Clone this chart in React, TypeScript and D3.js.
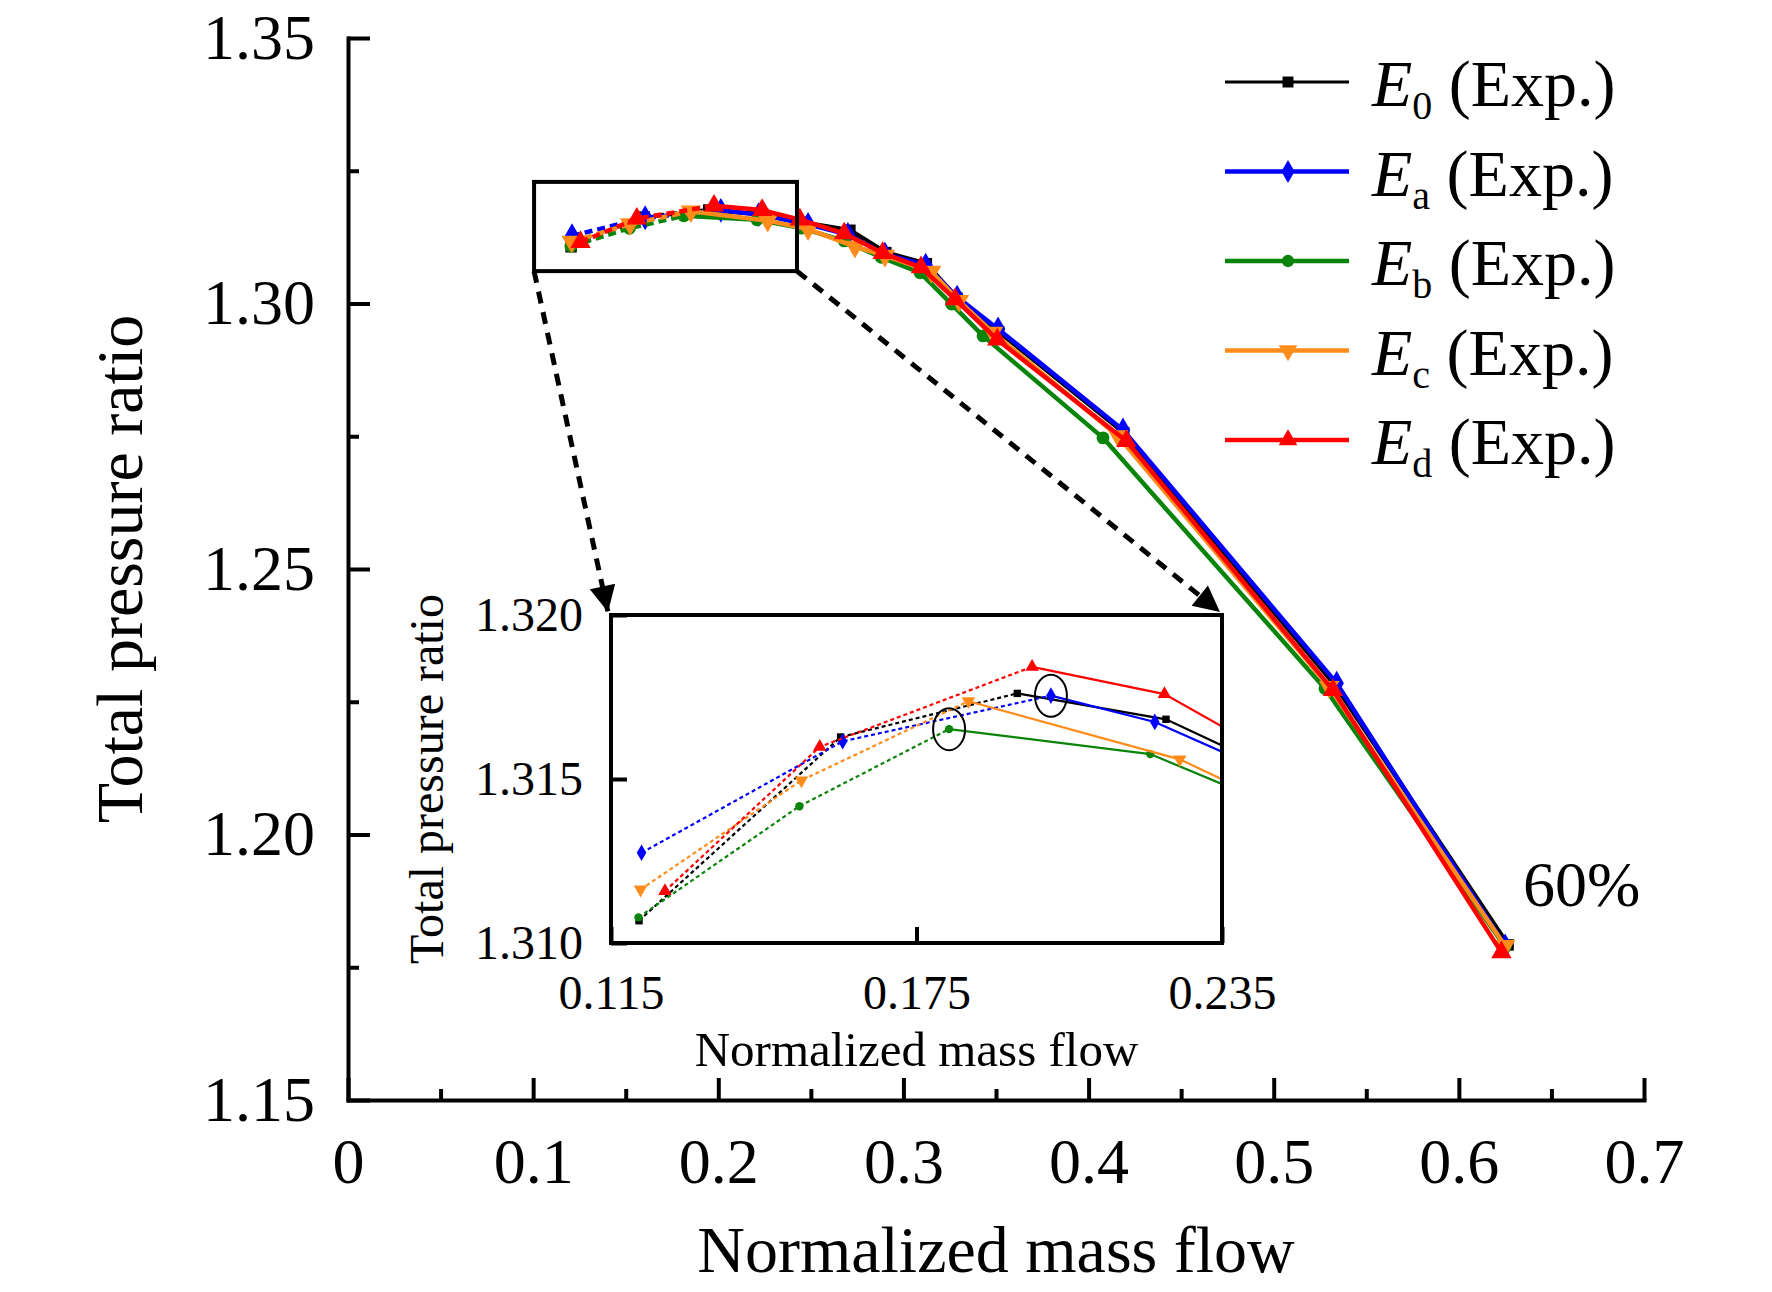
import React, { useEffect, useRef } from 'react';
import * as d3 from 'd3';

const W = 1772;
const H = 1292;

// normalized mass flow and total pressure ratio
const flowE0 = [0.1205, 0.1601, 0.1948, 0.2240, 0.2450, 0.2711, 0.2905, 0.3124, 0.3290, 0.3515, 0.4190, 0.5330, 0.6266];
const prE0 = [1.31068, 1.31628, 1.31761, 1.31682, 1.3153, 1.3138, 1.3096, 1.3075, 1.3010, 1.2947, 1.2757, 1.2282, 1.1792];

const flowEa = [0.1210, 0.1605, 0.2014, 0.2218, 0.2485, 0.2700, 0.2900, 0.3120, 0.3290, 0.3511, 0.4186, 0.5340, 0.6250];
const prEa = [1.31275, 1.31615, 1.31754, 1.31674, 1.3149, 1.3130, 1.3093, 1.3072, 1.3012, 1.2952, 1.2762, 1.2285, 1.1790];

const flowEb = [0.1204, 0.1520, 0.1814, 0.2209, 0.2450, 0.2680, 0.2880, 0.3090, 0.3260, 0.3430, 0.4078, 0.5277, 0.6250];
const prEb = [1.31078, 1.31417, 1.31652, 1.31576, 1.3142, 1.3118, 1.3087, 1.3058, 1.2999, 1.2939, 1.2747, 1.2275, 1.1788];

const flowEc = [0.1208, 0.1524, 0.1852, 0.2267, 0.2485, 0.2738, 0.2900, 0.3150, 0.3300, 0.3484, 0.4160, 0.5300, 0.6250];
const prEc = [1.31163, 1.31496, 1.31737, 1.31560, 1.3140, 1.3107, 1.3090, 1.3060, 1.3005, 1.2945, 1.2750, 1.2278, 1.1790];

const flowEd = [0.1256, 0.1560, 0.1977, 0.2237, 0.2441, 0.2680, 0.2888, 0.3095, 0.3279, 0.3507, 0.4204, 0.5320, 0.6230];
const prEd = [1.31158, 1.31598, 1.31842, 1.31759, 1.3158, 1.3132, 1.3095, 1.3068, 1.3008, 1.2932, 1.2741, 1.2272, 1.1778];

const labels = ['0', 'a', 'b', 'c', 'd'];
const colors = ['#000000', '#0000ff', '#0a840a', '#ff8c1a', '#ff0000'];
const symbols = ['square', 'diamond', 'circle', 'down', 'up'];
const flows = [flowE0, flowEa, flowEb, flowEc, flowEd];
const ratios = [prE0, prEa, prEb, prEc, prEd];

// last point of the dotted (unstable) part of each curve
const dottedUntil = 2;

// zoom window in the main plot and the inset ranges
const zoomFlow = [0.1005, 0.2425];
const zoomRatio = [1.3061, 1.3229];
const insetFlow = [0.115, 0.235];
const insetRatio = [1.310, 1.320];

const xTicks = [0, 0.1, 0.2, 0.3, 0.4, 0.5, 0.6, 0.7];
const yTicks = [1.15, 1.2, 1.25, 1.3, 1.35];
const insetXTicks = [0.115, 0.175, 0.235];
const insetYTicks = [1.310, 1.315, 1.320];

const FONT = "'Liberation Serif', 'Times New Roman', serif";

function symbolPath(kind: string, size: number) {
  const t = kind === 'square' ? d3.symbolSquare
    : kind === 'diamond' ? d3.symbolDiamond
    : kind === 'circle' ? d3.symbolCircle
    : d3.symbolTriangle;
  return d3.symbol().type(t).size(size)() as string;
}

export default function App() {
  const ref = useRef<SVGSVGElement>(null);

  useEffect(() => {
    if (!ref.current) return;
    const root = d3.select(ref.current);
    root.selectAll('*').remove();
    const defs = root.append('defs');
    // small shift down so the top tick label is not clipped
    const svg = root.append('g').attr('transform', 'translate(0,6)');

    const x = d3.scaleLinear().domain([0, 0.7]).range([348, 1644]);
    const y = d3.scaleLinear().domain([1.15, 1.35]).range([1094, 32]);

    defs.append('marker')
      .attr('id', 'arrow')
      .attr('viewBox', '0 0 10 10')
      .attr('refX', 10).attr('refY', 5)
      .attr('markerWidth', 28).attr('markerHeight', 26)
      .attr('markerUnits', 'userSpaceOnUse')
      .attr('orient', 'auto')
      .append('path')
      .attr('d', 'M0,0 L10,5 L0,10 z')
      .attr('fill', '#000');

    // --- main axes
    const styleAxis = (g: any, fs: number) => {
      g.attr('font-family', FONT).attr('font-size', fs);
      g.selectAll('.tick line').attr('stroke', '#000').attr('stroke-width', 4);
      g.selectAll('.tick text').attr('fill', '#000');
      g.select('.domain').attr('stroke', '#000').attr('stroke-width', 4).attr('stroke-linecap', 'square');
    };

    svg.append('g')
      .attr('transform', `translate(0,${y(1.15)})`)
      .call(d3.axisBottom(x).tickValues(d3.range(0.05, 0.7, 0.1)).tickSize(-11).tickFormat(() => '').tickSizeOuter(0))
      .call(g => styleAxis(g, 64))
      .call(g => g.select('.domain').remove());
    svg.append('g')
      .attr('transform', `translate(${x(0)},0)`)
      .call(d3.axisLeft(y).tickValues(d3.range(1.175, 1.35, 0.05)).tickSize(-11).tickFormat(() => '').tickSizeOuter(0))
      .call(g => styleAxis(g, 64))
      .call(g => g.select('.domain').remove());

    svg.append('g')
      .attr('transform', `translate(0,${y(1.15)})`)
      .call(d3.axisBottom(x).tickValues(xTicks).tickSize(-22).tickSizeOuter(0).tickPadding(38)
        .tickFormat(d => (+d === 0 ? '0' : d3.format('.1f')(+d))))
      .call(g => styleAxis(g, 64));
    svg.append('g')
      .attr('transform', `translate(${x(0)},0)`)
      .call(d3.axisLeft(y).tickValues(yTicks).tickSize(-22).tickSizeOuter(0).tickPadding(33)
        .tickFormat(d => d3.format('.2f')(+d)))
      .call(g => styleAxis(g, 64));

    svg.append('text')
      .attr('transform', `translate(142,${(y(1.15) + y(1.35)) / 2}) rotate(-90)`)
      .attr('text-anchor', 'middle')
      .attr('font-family', FONT).attr('font-size', 66)
      .text('Total pressure ratio');
    svg.append('text')
      .attr('x', (x(0) + x(0.7)) / 2).attr('y', 1266)
      .attr('text-anchor', 'middle')
      .attr('font-family', FONT).attr('font-size', 66)
      .text('Normalized mass flow');

    // --- main curves
    flows.forEach((fl, s) => {
      const pts = fl.map((f, i) => [x(f), y(ratios[s][i])] as [number, number]);
      svg.append('path')
        .attr('d', d3.line()(pts.slice(0, dottedUntil + 1)))
        .attr('fill', 'none').attr('stroke', colors[s]).attr('stroke-width', 4.5)
        .attr('stroke-dasharray', '8 5');
      svg.append('path')
        .attr('d', d3.line()(pts.slice(dottedUntil)))
        .attr('fill', 'none').attr('stroke', colors[s]).attr('stroke-width', 4.5)
        .attr('stroke-linejoin', 'round');
      const size = symbols[s] === 'square' || symbols[s] === 'circle' ? 130 : 180;
      svg.append('g').selectAll('path')
        .data(pts)
        .join('path')
        .attr('d', symbolPath(symbols[s], size))
        .attr('transform', d => `translate(${d[0]},${d[1]})${symbols[s] === 'down' ? ' rotate(180)' : ''}`)
        .attr('fill', colors[s]);
    });

    // --- zoom window and arrows
    const insetBox = { left: 611, right: 1222, top: 609, bottom: 937 };
    svg.append('rect')
      .attr('x', x(zoomFlow[0])).attr('y', y(zoomRatio[1]))
      .attr('width', x(zoomFlow[1]) - x(zoomFlow[0]))
      .attr('height', y(zoomRatio[0]) - y(zoomRatio[1]))
      .attr('fill', 'none').attr('stroke', '#000').attr('stroke-width', 4);

    const arrows = [
      [[x(zoomFlow[0]), y(zoomRatio[0])], [insetBox.left - 3, insetBox.top - 3]],
      [[x(zoomFlow[1]), y(zoomRatio[0])], [insetBox.right - 2, insetBox.top - 3]],
    ];
    arrows.forEach(([a, b]) => {
      svg.append('line')
        .attr('x1', a[0]).attr('y1', a[1]).attr('x2', b[0]).attr('y2', b[1])
        .attr('stroke', '#000').attr('stroke-width', 5)
        .attr('stroke-dasharray', '12 9')
        .attr('marker-end', 'url(#arrow)');
    });

    // --- inset
    const ix = d3.scaleLinear().domain(insetFlow).range([insetBox.left, insetBox.right]);
    const iy = d3.scaleLinear().domain(insetRatio).range([insetBox.bottom, insetBox.top]);

    defs.append('clipPath').attr('id', 'inset-clip')
      .append('rect')
      .attr('x', insetBox.left).attr('y', insetBox.top)
      .attr('width', insetBox.right - insetBox.left)
      .attr('height', insetBox.bottom - insetBox.top);

    svg.append('rect')
      .attr('x', insetBox.left).attr('y', insetBox.top)
      .attr('width', insetBox.right - insetBox.left)
      .attr('height', insetBox.bottom - insetBox.top)
      .attr('fill', '#fff');

    const inset = svg.append('g').attr('clip-path', 'url(#inset-clip)');
    flows.forEach((fl, s) => {
      const pts = fl.map((f, i) => [ix(f), iy(ratios[s][i])] as [number, number]);
      inset.append('path')
        .attr('d', d3.line()(pts.slice(0, dottedUntil + 1)))
        .attr('fill', 'none').attr('stroke', colors[s]).attr('stroke-width', 2.2)
        .attr('stroke-dasharray', '4 3');
      inset.append('path')
        .attr('d', d3.line()(pts.slice(dottedUntil)))
        .attr('fill', 'none').attr('stroke', colors[s]).attr('stroke-width', 2.2);
      const size = symbols[s] === 'square' || symbols[s] === 'circle' ? 55 : 80;
      inset.append('g').selectAll('path')
        .data(pts)
        .join('path')
        .attr('d', symbolPath(symbols[s], size))
        .attr('transform', d => `translate(${d[0]},${d[1]})${symbols[s] === 'down' ? ' rotate(180)' : ''}`)
        .attr('fill', colors[s]);
    });

    // circled points where the curves turn
    [[flowEb[dottedUntil], prEb[dottedUntil]], [flowEa[dottedUntil], prEa[dottedUntil]]].forEach(([f, p]) => {
      inset.append('ellipse')
        .attr('cx', ix(f)).attr('cy', iy(p))
        .attr('rx', 16).attr('ry', 21)
        .attr('fill', 'none').attr('stroke', '#000').attr('stroke-width', 2);
    });

    svg.append('rect')
      .attr('x', insetBox.left).attr('y', insetBox.top)
      .attr('width', insetBox.right - insetBox.left)
      .attr('height', insetBox.bottom - insetBox.top)
      .attr('fill', 'none').attr('stroke', '#000').attr('stroke-width', 4);

    svg.append('g')
      .attr('transform', `translate(0,${insetBox.bottom})`)
      .call(d3.axisBottom(ix).tickValues(insetXTicks).tickSize(-16).tickSizeOuter(0).tickPadding(32)
        .tickFormat(d => d3.format('.3f')(+d)))
      .call(g => styleAxis(g, 48))
      .call(g => g.select('.domain').remove());
    svg.append('g')
      .attr('transform', `translate(${insetBox.left},0)`)
      .call(d3.axisLeft(iy).tickValues(insetYTicks).tickSize(-16).tickSizeOuter(0).tickPadding(28)
        .tickFormat(d => d3.format('.3f')(+d)))
      .call(g => styleAxis(g, 48))
      .call(g => g.select('.domain').remove());

    svg.append('text')
      .attr('transform', `translate(443,${(insetBox.top + insetBox.bottom) / 2}) rotate(-90)`)
      .attr('text-anchor', 'middle')
      .attr('font-family', FONT).attr('font-size', 48)
      .text('Total pressure ratio');
    svg.append('text')
      .attr('x', (insetBox.left + insetBox.right) / 2).attr('y', 1060)
      .attr('text-anchor', 'middle')
      .attr('font-family', FONT).attr('font-size', 49)
      .text('Normalized mass flow');

    // speed line label
    svg.append('text')
      .attr('x', 1523).attr('y', 900)
      .attr('font-family', FONT).attr('font-size', 64)
      .text('60%');

    // --- legend
    const legend = svg.append('g').attr('font-family', FONT);
    labels.forEach((lab, s) => {
      const ly = 76 + s * 89.5;
      legend.append('line')
        .attr('x1', 1225).attr('x2', 1349).attr('y1', ly).attr('y2', ly)
        .attr('stroke', colors[s]).attr('stroke-width', s === 0 ? 3 : 4.5);
      const size = symbols[s] === 'square' || symbols[s] === 'circle' ? 120 : 150;
      legend.append('path')
        .attr('d', symbolPath(symbols[s], size))
        .attr('transform', `translate(1288,${ly})${symbols[s] === 'down' ? ' rotate(180)' : ''}`)
        .attr('fill', colors[s]);
      const t = legend.append('text').attr('x', 1372).attr('y', ly + 24).attr('font-size', 66);
      t.append('tspan').attr('font-style', 'italic').text('E');
      t.append('tspan').attr('font-size', 40).attr('dy', 13).text(lab);
      t.append('tspan').attr('dy', -13).text(' (Exp.)');
    });
  }, []);

  return (
    <div style={{ position: 'absolute', left: 0, top: 0 }}>
      <svg ref={ref} width={W} height={H} style={{ display: 'block', background: '#fff' }} />
    </div>
  );
}
